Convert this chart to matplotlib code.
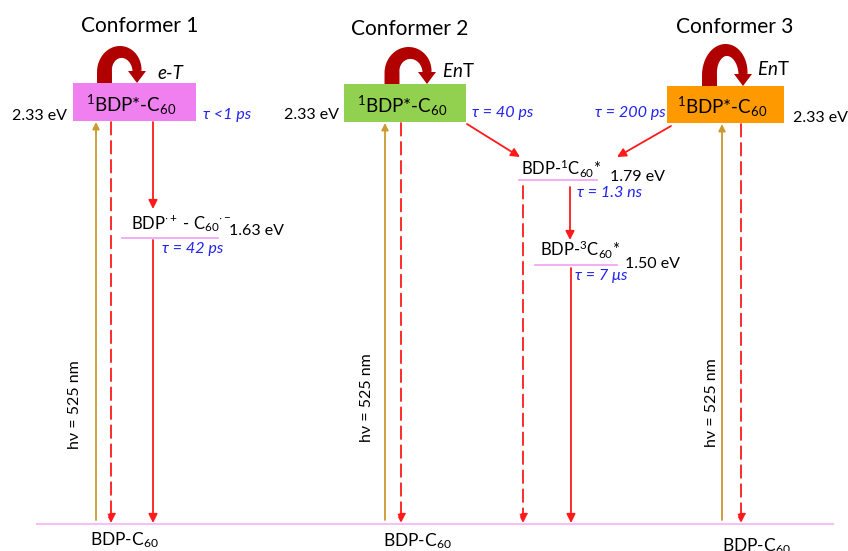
import numpy as np
import matplotlib
matplotlib.use("Agg")
from matplotlib import pyplot as plt
from matplotlib.patches import Rectangle

plt.rcParams["font.family"] = ["Lato", "DejaVu Sans"]
plt.rcParams["mathtext.fontset"] = "custom"
plt.rcParams["mathtext.rm"] = "Lato"
plt.rcParams["mathtext.it"] = "Lato:italic"
plt.rcParams["mathtext.bf"] = "Lato:bold"

# --- data -------------------------------------------------------------
conformers = ["Conformer 1", "Conformer 2", "Conformer 3"]
transfer_labels = ["e-T", r"$\mathit{En}$T", r"$\mathit{En}$T"]
s1_label = r"$^{1}$BDP*-C$_{60}$"
ground_label = r"BDP-C$_{60}$"
s1_energy = 2.33
s1_lifetimes = ["τ <1 ps", "τ = 40 ps", "τ = 200 ps"]
ct_label = r"BDP$^{\cdot +}$ - C$_{60}$$^{\cdot -}$"
ct_energy = 1.63
ct_lifetime = "τ = 42 ps"
c60_singlet_label = r"BDP-$^{1}$C$_{60}$*"
c60_singlet_energy = 1.79
c60_singlet_lifetime = "τ = 1.3 ns"
c60_triplet_label = r"BDP-$^{3}$C$_{60}$*"
c60_triplet_energy = 1.50
c60_triplet_lifetime = "τ = 7 μs"
excitation_nm = 525

# --- layout (pixel coordinates of the 848x551 canvas) -------------------
box_x = [(73, 196), (344, 466), (667, 784)]
box_y = [(83, 121), (84, 122), (86, 123)]
box_colors = ["#F080F0", "#92D050", "#FF9900"]
title_pos = [(140, 32), (410, 35), (735, 33)]
loop_feet = [(104.5, 137), (392, 427), (709.5, 743)]
loop_tops = [52, 53, 50]
transfer_pos = [(157, 79), (442, 77), (757, 75)]
excite_x = [96, 385, 722]
relax_x = [111, 401, 741]
hv_pos = [(75, 405), (367, 398), (712, 403)]
ground_y = 524
ground_text = [(90, 545), (383, 546), (722, 551)]

RED = "#FF1A1A"
GOLD = "#CC9A2E"
LEVEL = "#F3A6F3"
BLUE = "#2323F0"
LOOP = "#B00000"
TAU = dict(color=BLUE, style="italic", fontsize=11.6, va="baseline")
EV = dict(fontsize=11.5, va="baseline")


def arrow(ax, x0, y0, x1, y1, color=RED, dashed=False, lw=1.3, scale=13):
    ls = (0, (7, 3.5)) if dashed else "-"
    ax.annotate("", xy=(x1, y1), xytext=(x0, y0),
                arrowprops=dict(arrowstyle="-|>", color=color, lw=lw, linestyle=ls,
                                mutation_scale=scale, shrinkA=0, shrinkB=0))


def loop_arrow(ax, x_foot, x_tip, y_base, top, color=LOOP):
    head_len = 12
    y_head = y_base - head_len
    cx = (x_foot + x_tip) / 2
    rx = (x_tip - x_foot) / 2
    ry = y_head - top
    theta = np.linspace(np.pi, 0, 80)
    xs = np.concatenate([[x_foot], cx + rx * np.cos(theta)])
    ys = np.concatenate([[y_base], y_head - ry * np.sin(theta)])
    widths = np.linspace(15, 9, len(xs))
    dx, dy = np.gradient(xs), np.gradient(ys)
    norm = np.hypot(dx, dy)
    nx, ny = -dy / norm, dx / norm
    left = np.column_stack([xs + nx * widths / 2, ys + ny * widths / 2])
    right = np.column_stack([xs - nx * widths / 2, ys - ny * widths / 2])
    poly = np.vstack([left, right[::-1]])
    ax.fill(poly[:, 0], poly[:, 1], color=color, lw=0)
    ax.fill([x_tip - 9, x_tip + 9, x_tip], [y_head, y_head, y_base], color=color, lw=0)


fig = plt.figure(figsize=(8.48, 5.51), dpi=100)
ax = fig.add_axes([0, 0, 1, 1])
ax.set_xlim(0, 848)
ax.set_ylim(551, 0)
ax.axis("off")

# ground state line
ax.plot([37, 833], [ground_y, ground_y], color="#F5C0F5", lw=1.5)

for i, name in enumerate(conformers):
    x0, x1 = box_x[i]
    y0, y1 = box_y[i]
    ax.add_patch(Rectangle((x0, y0), x1 - x0, y1 - y0, facecolor=box_colors[i], edgecolor="none"))
    ax.text((x0 + x1) / 2 - 3, y1 - 9, s1_label, ha="center", va="baseline", fontsize=13.5)
    ax.text(*title_pos[i], name, ha="center", va="baseline", fontsize=15)
    loop_arrow(ax, loop_feet[i][0], loop_feet[i][1], y0, loop_tops[i])
    ax.text(*transfer_pos[i], transfer_labels[i], ha="left", va="baseline", fontsize=13.5,
            style="italic" if i == 0 else "normal")

    # excitation and decay to ground
    arrow(ax, excite_x[i], ground_y - 4, excite_x[i], y1 + 1, color=GOLD, lw=1.3, scale=10)
    arrow(ax, relax_x[i], y1 + 1, relax_x[i], ground_y - 1, dashed=True)
    ax.text(*hv_pos[i], f"hν = {excitation_nm} nm", rotation=90, ha="center", va="center",
            fontsize=11.5)
    ax.text(*ground_text[i], ground_label, ha="left", va="baseline", fontsize=12.5)

# S1 energies and lifetimes
s1_text = f"{s1_energy:.2f} eV"
ax.text(67, 120, s1_text, ha="right", **EV)
ax.text(339, 119, s1_text, ha="right", **EV)
ax.text(793, 122, s1_text, ha="left", **EV)
ax.text(203, 119, s1_lifetimes[0], ha="left", **TAU)
ax.text(472, 117, s1_lifetimes[1], ha="left", **TAU)
ax.text(666, 117, s1_lifetimes[2], ha="right", **TAU)

# conformer 1: charge transfer state
ax.plot([122, 218], [238, 238], color=LEVEL, lw=1.3)
ax.text(131, 229, ct_label, ha="left", va="baseline", fontsize=12)
ax.text(229, 235, f"{ct_energy:.2f} eV", ha="left", **EV)
ax.text(162, 253, ct_lifetime, ha="left", **TAU)
arrow(ax, 153, 122, 153, 209)
arrow(ax, 153, 240, 153, ground_y - 1)

# conformers 2 & 3: energy transfer to C60
ax.plot([519, 597], [180, 180], color=LEVEL, lw=1.3)
ax.text(521, 175, c60_singlet_label, ha="left", va="baseline", fontsize=12)
ax.text(610, 181, f"{c60_singlet_energy:.2f} eV", ha="left", **EV)
ax.text(577, 197, c60_singlet_lifetime, ha="left", **TAU)
ax.plot([535, 617], [265, 265], color=LEVEL, lw=1.3)
ax.text(540, 256, c60_triplet_label, ha="left", va="baseline", fontsize=12)
ax.text(625, 268, f"{c60_triplet_energy:.2f} eV", ha="left", **EV)
ax.text(575, 280, c60_triplet_lifetime, ha="left", **TAU)

arrow(ax, 467, 124, 520, 157)
arrow(ax, 671, 126, 617, 157)
arrow(ax, 523, 186, 523, ground_y - 1, dashed=True)
arrow(ax, 570, 187, 570, 240)
arrow(ax, 571, 268, 571, ground_y - 1)

fig.savefig("out.png", dpi=100)
